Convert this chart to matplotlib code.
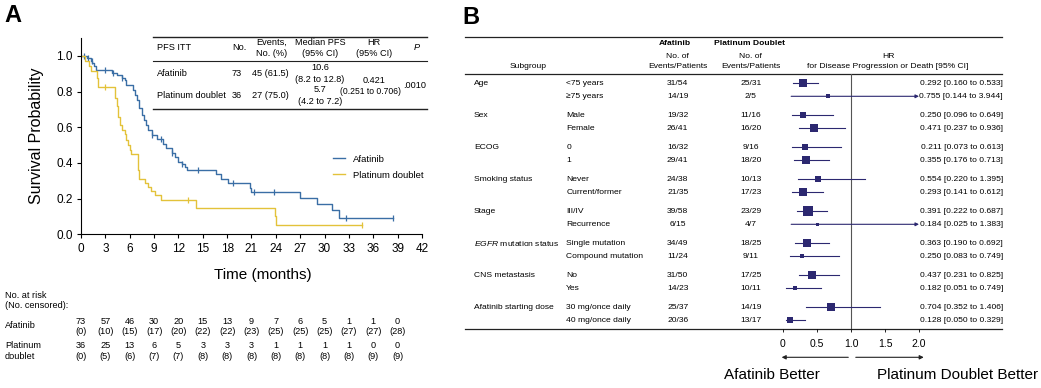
import numpy as np
import matplotlib
matplotlib.use('Agg')
import matplotlib.pyplot as plt
from matplotlib import transforms

plt.rcParams['font.family'] = ['Liberation Sans', 'DejaVu Sans']
plt.rcParams['mathtext.fontset'] = 'custom'
plt.rcParams['mathtext.rm'] = 'Liberation Sans'
plt.rcParams['mathtext.it'] = 'Liberation Sans:italic'

W, H = 1041, 388
BLUE = '#3a6ea5'
YELLOW = '#e3c23a'
NAVY = '#2c2870'

# ---------------- panel A: Kaplan-Meier PFS ----------------
afa_t = [0.7, 1.2, 1.4, 1.6, 1.9, 3.8, 4.4, 5.0, 5.4, 5.6, 6.4, 6.6, 6.9, 7.2, 7.5,
         7.8, 8.0, 8.3, 8.7, 9.3, 10.1, 10.5, 11.2, 11.6, 12.0, 12.4, 12.8, 13.05,
         16.6, 17.3, 18.1, 20.8, 21.0, 27.0, 29.1, 30.9, 31.8]
afa_s = [0.986, 0.973, 0.959, 0.945, 0.918, 0.904, 0.890, 0.876, 0.862, 0.834, 0.806,
         0.778, 0.750, 0.708, 0.666, 0.638, 0.610, 0.582, 0.554, 0.532, 0.507, 0.482,
         0.457, 0.432, 0.407, 0.393, 0.378, 0.358, 0.336, 0.310, 0.286, 0.262, 0.238,
         0.202, 0.172, 0.135, 0.090]
afa_end = 38.4
afa_cens = [0.4, 0.9, 1.3, 2.9, 4.0, 5.1, 8.7, 9.8, 11.2, 12.5, 14.4, 18.7, 21.3,
            23.8, 32.7, 38.4]

pla_t = [0.5, 1.0, 1.2, 2.0, 2.1, 4.2, 4.4, 4.5, 4.8, 5.0, 5.4, 5.6, 5.8, 6.0, 6.1,
         7.0, 7.1, 7.2, 7.9, 8.2, 8.6, 9.1, 9.9, 14.2, 23.9, 24.0]
pla_s = [0.972, 0.944, 0.917, 0.875, 0.823, 0.765, 0.720, 0.660, 0.610, 0.585, 0.560,
         0.530, 0.500, 0.475, 0.448, 0.360, 0.335, 0.312, 0.288, 0.265, 0.245, 0.220,
         0.195, 0.145, 0.100, 0.052]
pla_end = 34.6
pla_cens = [2.9, 13.2, 34.6]

risk_times = [0, 3, 6, 9, 12, 15, 18, 21, 24, 27, 30, 33, 36, 39]
afa_risk = [73, 57, 46, 30, 20, 15, 13, 9, 7, 6, 5, 1, 1, 0]
afa_censd = [0, 10, 15, 17, 20, 22, 22, 23, 25, 25, 25, 27, 27, 28]
pla_risk = [36, 25, 13, 6, 5, 3, 3, 3, 1, 1, 1, 1, 0, 0]
pla_censd = [0, 5, 6, 7, 7, 8, 8, 8, 8, 8, 8, 8, 9, 9]

tab_arms = ['Afatinib', 'Platinum doublet']
tab_n = ['73', '36']
tab_events = ['45 (61.5)', '27 (75.0)']
tab_median = ['10.6', '5.7']
tab_median_ci = ['(8.2 to 12.8)', '(4.2 to 7.2)']
tab_hr = '0.421'
tab_hr_ci = '(0.251 to 0.706)'
tab_p = '.0010'

# ---------------- panel B: subgroup forest ----------------
groups = ['Age', 'Sex', 'ECOG', 'Smoking status', 'Stage',
          r'$\it{EGFR}$ mutation status', 'CNS metastasis', 'Afatinib starting dose']
subgroups = [['<75 years', '\u226575 years'], ['Male', 'Female'], ['0', '1'],
             ['Never', 'Current/former'], ['III/IV', 'Recurrence'],
             ['Single mutation', 'Compound mutation'], ['No', 'Yes'],
             ['30 mg/once daily', '40 mg/once daily']]
afa_ev = ['31/54', '14/19', '19/32', '26/41', '16/32', '29/41', '24/38', '21/35',
          '39/58', '6/15', '34/49', '11/24', '31/50', '14/23', '25/37', '20/36']
pla_ev = ['25/31', '2/5', '11/16', '16/20', '9/16', '18/20', '10/13', '17/23',
          '23/29', '4/7', '18/25', '9/11', '17/25', '10/11', '14/19', '13/17']
# hazard ratios as printed
hr = [0.292, 0.755, 0.250, 0.471, 0.211, 0.355, 0.554, 0.293,
      0.391, 0.184, 0.363, 0.250, 0.437, 0.182, 0.704, 0.128]
hr_lo = [0.160, 0.144, 0.096, 0.237, 0.073, 0.176, 0.220, 0.141,
         0.222, 0.025, 0.190, 0.083, 0.231, 0.051, 0.352, 0.050]
hr_hi = [0.533, 3.944, 0.649, 0.936, 0.613, 0.713, 1.395, 0.612,
         0.687, 1.383, 0.692, 0.749, 0.825, 0.749, 1.406, 0.329]
# marks as drawn in the figure
mk_hr = [0.29, 0.66, 0.30, 0.46, 0.33, 0.34, 0.52, 0.29,
         0.37, 0.50, 0.35, 0.28, 0.43, 0.17, 0.71, 0.11]
mk_lo = [0.15, 0.12, 0.13, 0.235, 0.13, 0.16, 0.216, 0.13,
         0.20, 0.12, 0.18, 0.10, 0.235, 0.045, 0.34, 0.05]
mk_hi = [0.51, 3.944, 0.73, 0.91, 0.85, 0.68, 1.21, 0.59,
         0.65, 3.0, 0.68, 0.83, 0.83, 0.56, 1.43, 0.32]

fig = plt.figure(figsize=(W / 100, H / 100), dpi=100)

# ---- KM axes
axA = fig.add_axes([81 / W, 1 - 234.3 / H, 341 / W, 196.3 / H])


def km_xy(t, s, end):
    return [0] + t + [end], [1.0] + s + [s[-1]]


def surv_at(tc, t, s):
    i = np.searchsorted(t, tc, side='right') - 1
    return np.where(i < 0, 1.0, np.array(s)[np.clip(i, 0, None)])


x, y = km_xy(afa_t, afa_s, afa_end)
axA.step(x, y, where='post', color=BLUE, lw=1, label='Afatinib')
axA.plot(afa_cens, surv_at(afa_cens, afa_t, afa_s), ls='none', marker='|',
         ms=4.5, mew=0.9, color=BLUE)
x, y = km_xy(pla_t, pla_s, pla_end)
axA.step(x, y, where='post', color=YELLOW, lw=1, label='Platinum doublet')
axA.plot(pla_cens, surv_at(pla_cens, pla_t, pla_s), ls='none', marker='|',
         ms=4.5, mew=0.9, color=YELLOW)

axA.set_xlim(0, 42)
axA.set_ylim(0, 1.1)
axA.set_xticks(risk_times + [42])
axA.set_yticks([0, 0.2, 0.4, 0.6, 0.8, 1.0])
axA.set_yticklabels(['0.0', '0.2', '0.4', '0.6', '0.8', '1.0'])
axA.spines[['top', 'right']].set_visible(False)
axA.spines[['left', 'bottom']].set_linewidth(0.8)
axA.tick_params(length=3, width=0.8, labelsize=8.5, pad=3)
axA.legend(loc='upper left', bbox_to_anchor=(0.725, 0.43), frameon=False,
           fontsize=6.8, handlelength=1.3, labelspacing=0.75, borderpad=0,
           handletextpad=0.8)

# ---- overlay for text and rules
ov = fig.add_axes([0, 0, 1, 1])
ov.set_xlim(0, W)
ov.set_ylim(H, 0)
ov.axis('off')

ov.text(4, 15, 'A', fontsize=17, fontweight='bold', va='center')
ov.text(462, 18, 'B', fontsize=17, fontweight='bold', va='center')
ov.text(37, 136, 'Survival Probability', fontsize=11.5, rotation=90,
        ha='center', va='center')
ov.text(263, 275, 'Time (months)', fontsize=11, ha='center', va='center')

# table inside panel A
fs = 6.6
for yy, lw in [(36.7, 1.0), (61, 0.8), (109.3, 1.0)]:
    ov.plot([152.7, 426.7], [yy, yy], color='#222', lw=lw)
ov.text(157, 48, 'PFS ITT', fontsize=fs, va='center')
ov.text(239, 48, 'No.', fontsize=fs, va='center', ha='center')
ov.text(272, 48, 'Events,\nNo. (%)', fontsize=fs, va='center', ha='center',
        linespacing=1.2)
ov.text(320, 48, 'Median PFS\n(95% CI)', fontsize=fs, va='center', ha='center',
        linespacing=1.2)
ov.text(374, 48, 'HR\n(95% CI)', fontsize=fs, va='center', ha='center',
        linespacing=1.2)
ov.text(417, 48, 'P', fontsize=fs, va='center', ha='center', style='italic')
for i, yy in enumerate([74, 96]):
    ov.text(157, yy, tab_arms[i], fontsize=fs, va='center')
    ov.text(237, yy, tab_n[i], fontsize=fs, va='center', ha='center')
    ov.text(270, yy, tab_events[i], fontsize=fs, va='center', ha='center')
    ov.text(320, yy - 6, tab_median[i], fontsize=fs, va='center', ha='center')
    ov.text(320, yy + 5, tab_median_ci[i], fontsize=fs, va='center', ha='center')
ov.text(374, 80.5, tab_hr, fontsize=fs, va='center', ha='center')
ov.text(371, 91, tab_hr_ci, fontsize=6.2, va='center', ha='center')
ov.text(415, 85, tab_p, fontsize=fs, va='center', ha='center')

# number at risk
rt = transforms.blended_transform_factory(axA.transData, ov.transData)
ov.text(5, 295, 'No. at risk', fontsize=fs, va='center')
ov.text(5, 305.5, '(No. censored):', fontsize=fs, va='center')
ov.text(5, 326, 'Afatinib', fontsize=fs, va='center')
ov.text(5, 346, 'Platinum', fontsize=fs, va='center')
ov.text(5, 356.5, 'doublet', fontsize=fs, va='center')
for i, t in enumerate(risk_times):
    ov.text(t, 321, str(afa_risk[i]), fontsize=fs, ha='center', va='center', transform=rt)
    ov.text(t, 331, '(%d)' % afa_censd[i], fontsize=fs, ha='center', va='center', transform=rt)
    ov.text(t, 346, str(pla_risk[i]), fontsize=fs, ha='center', va='center', transform=rt)
    ov.text(t, 356.5, '(%d)' % pla_censd[i], fontsize=fs, ha='center', va='center', transform=rt)

# ---- forest plot
fsb = 6.1
x0, x1 = 465, 1001.5
for yy in [36.5, 74, 328.7]:
    ov.plot([x0, x1], [yy, yy], color='#222', lw=0.9)
ov.text(674.6, 43.5, 'Afatinib', fontsize=fsb, fontweight='bold', ha='center', va='center')
ov.text(749.6, 43.5, 'Platinum Doublet', fontsize=fsb, fontweight='bold', ha='center', va='center')
for cx in [677.7, 750.8]:
    ov.text(cx, 56, 'No. of', fontsize=fsb, ha='center', va='center')
    ov.text(cx, 66, 'Events/Patients', fontsize=fsb, ha='center', va='center')
ov.text(527.7, 66, 'Subgroup', fontsize=fsb, ha='center', va='center')
ov.text(888, 56, 'HR', fontsize=fsb, ha='center', va='center')
ov.text(888, 66, 'for Disease Progression or Death [95% CI]', fontsize=fsb,
        ha='center', va='center')

axF = fig.add_axes([783 / W, 1 - 328.7 / H, 136 / W, (328.7 - 74) / H])
axF.set_xlim(0, 2)
axF.set_ylim(328.7, 74)
axF.patch.set_visible(False)
for sp in axF.spines.values():
    sp.set_visible(False)
axF.set_yticks([])
axF.set_xticks([0, 0.5, 1.0, 1.5, 2.0])
axF.set_xticklabels(['0', '0.5', '1.0', '1.5', '2.0'])
axF.tick_params(axis='x', length=2.2, width=0.6, pad=5.5, labelsize=7.5)
axF.axvline(1.0, color='#555', lw=0.8)

row_y = []
k = 0
for g, name in enumerate(groups):
    for w, sub in enumerate(subgroups[g]):
        yy = 83.5 + 32 * g + 12.8 * w
        row_y.append(yy)
        if w == 0:
            ov.text(473.8, yy, name, fontsize=fsb, va='center')
        ov.text(566.2, yy, sub, fontsize=fsb, va='center')
        ov.text(677.7, yy, afa_ev[k], fontsize=fsb, va='center', ha='center')
        ov.text(750.8, yy, pla_ev[k], fontsize=fsb, va='center', ha='center')
        ov.text(1003, yy, '%.3f [%.3f to %.3f]' % (hr[k], hr_lo[k], hr_hi[k]),
                fontsize=fsb, va='center', ha='right')
        k += 1

# square size from inverse variance of log HR
se = (np.log(hr_hi) - np.log(hr_lo)) / 3.92
side_px = 2.75 / se
for i, yy in enumerate(row_y):
    if mk_hi[i] > 2.0:
        axF.annotate('', xy=(2.0, yy), xytext=(mk_lo[i], yy),
                     arrowprops=dict(arrowstyle='-|>', color=NAVY, lw=0.8,
                                     mutation_scale=5, shrinkA=0, shrinkB=0))
    else:
        axF.plot([mk_lo[i], mk_hi[i]], [yy, yy], color=NAVY, lw=0.8)
    axF.plot(mk_hr[i], yy, marker='s', ms=max(side_px[i], 3) * 0.72, color=NAVY, mew=0)

at = transforms.blended_transform_factory(axF.transData, ov.transData)
ov.annotate('', xy=(-0.02, 357.3), xytext=(0.96, 357.3), xycoords=at, textcoords=at,
            arrowprops=dict(arrowstyle='-|>', color='#222', lw=0.8, mutation_scale=6,
                            shrinkA=0, shrinkB=0))
ov.annotate('', xy=(2.07, 357.3), xytext=(1.07, 357.3), xycoords=at, textcoords=at,
            arrowprops=dict(arrowstyle='-|>', color='#222', lw=0.8, mutation_scale=6,
                            shrinkA=0, shrinkB=0))
ov.text(771.5, 375, 'Afatinib Better', fontsize=11, ha='center', va='center')
ov.text(957.3, 375, 'Platinum Doublet Better', fontsize=11, ha='center', va='center')

fig.savefig('out.png', dpi=100)
